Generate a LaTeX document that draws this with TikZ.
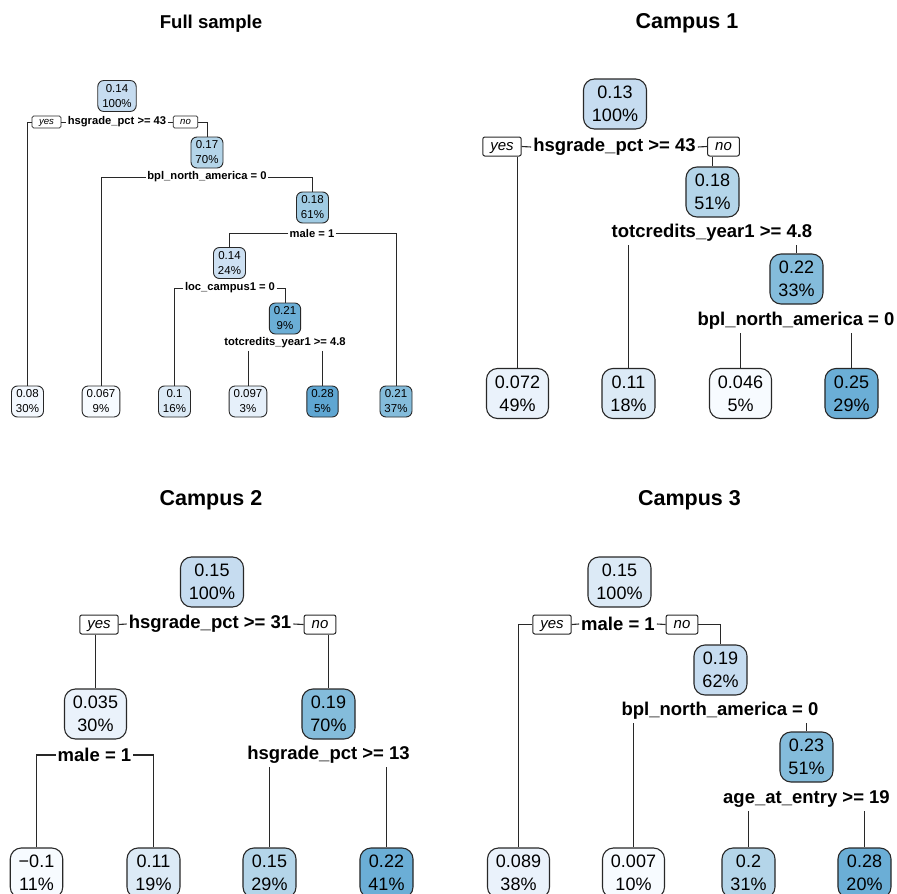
\documentclass[tikz,border=0pt]{standalone}
\usepackage{fontspec}
\setmainfont{Liberation Sans}
\definecolor{lineC}{RGB}{40,40,40}
\definecolor{b0}{RGB}{247,251,255}
\definecolor{b1}{RGB}{243,248,254}
\definecolor{b2}{RGB}{234,242,251}
\definecolor{b3}{RGB}{230,240,250}
\definecolor{b4}{RGB}{220,234,246}
\definecolor{b5}{RGB}{205,224,242}
\definecolor{b6}{RGB}{198,220,240}
\definecolor{b7}{RGB}{180,213,233}
\definecolor{b8}{RGB}{160,203,227}
\definecolor{b9}{RGB}{132,188,219}
\definecolor{b10}{RGB}{107,174,214}
\definecolor{b11}{RGB}{95,166,210}
\begin{document}
\begin{tikzpicture}[x=1pt,y=-1pt,
 fbox/.style={draw=lineC, line width=0.9pt, rounded corners=6pt, align=center, font=\fontsize{11.5}{15}\selectfont, inner xsep=4.5pt, inner ysep=0pt, minimum height=31pt},
 cbox/.style={draw=lineC, line width=1.1pt, rounded corners=11pt, align=center, font=\fontsize{18}{22.6}\selectfont, inner xsep=8.5pt, inner ysep=0pt, minimum height=50pt},
 flab/.style={font=\bfseries\fontsize{11.2}{13}\selectfont, inner xsep=1.5pt, inner ysep=2.5pt},
 clab/.style={font=\bfseries\fontsize{18.5}{21}\selectfont, inner xsep=2pt, inner ysep=3.5pt},
 fyn/.style={draw=lineC, line width=0.7pt, fill=white, rounded corners=1.5pt, font=\itshape\fontsize{9.6}{11}\selectfont, inner xsep=7pt, inner ysep=0pt, text height=7.3pt, text depth=1.9pt, minimum height=12pt},
 cyn/.style={draw=lineC, line width=1pt, fill=white, rounded corners=2pt, font=\itshape\fontsize{15}{17}\selectfont, inner xsep=7.5pt, inner ysep=0pt, text height=11.4pt, text depth=3pt, minimum height=19pt},
 fedge/.style={draw=lineC, line width=0.8pt},
 cedge/.style={draw=lineC, line width=1.1pt},
 fttl/.style={font=\bfseries\fontsize{18.6}{22}\selectfont, anchor=base, inner sep=0pt},
 cttl/.style={font=\bfseries\fontsize{21.5}{25}\selectfont, anchor=base, inner sep=0pt}]
\useasboundingbox (0,0) rectangle (897,894);
\clip (0,0) rectangle (897,894);
\fill[white] (0,0) rectangle (897,894);

% ---------------- Full sample ----------------
\node[fttl] (t0) at (211,28) {Full sample};
\node[fbox, fill=b6] (f1) at (117,96) {0.14\\100\%};
\node[fyn] (fyes1) at (46.5,122) {yes};
\node[flab] (flab1) at (117,122) {hsgrade\_pct >= 43};
\node[fyn] (fno1) at (185.5,122) {no};
\node[fbox, fill=b7] (f2) at (207,152.5) {0.17\\70\%};
\node[flab] (flab2) at (207,177) {bpl\_north\_america = 0};
\node[fbox, fill=b8] (f3) at (312.5,207.5) {0.18\\61\%};
\node[flab] (flab3) at (312,233) {male = 1};
\node[fbox, fill=b5] (f4) at (229.5,263) {0.14\\24\%};
\node[flab] (flab4) at (230,288) {loc\_campus1 = 0};
\node[fbox, fill=b10] (f5) at (285,318.5) {0.21\\9\%};
\node[flab] (flab5) at (285,343) {totcredits\_year1 >= 4.8};
\node[fbox, fill=b1] (fl1) at (27.5,401.5) {0.08\\30\%};
\node[fbox, fill=b0] (fl2) at (101,401.5) {0.067\\9\%};
\node[fbox, fill=b4] (fl3) at (174.5,401.5) {0.1\\16\%};
\node[fbox, fill=b3] (fl4) at (248,401.5) {0.097\\3\%};
\node[fbox, fill=b11] (fl5) at (322.5,401.5) {0.28\\5\%};
\node[fbox, fill=b9] (fl6) at (396,401.5) {0.21\\37\%};

\draw[fedge] (fyes1.west) -| (fl1.north);
\draw[fedge] (fyes1.east) -- (flab1.west);
\draw[fedge] (flab1.east) -- (fno1.west);
\draw[fedge] (fno1.east) -| (f2.north);
\draw[fedge] (flab2.west) -| (fl2.north);
\draw[fedge] (flab2.east) -| (f3.north);
\draw[fedge] (flab3.west) -| (f4.north);
\draw[fedge] (flab3.east) -| (fl6.north);
\draw[fedge] (flab4.west) -| (fl3.north);
\draw[fedge] (flab4.east) -| (f5.north);
\draw[fedge] (flab5.south -| fl4.north) -- (fl4.north);
\draw[fedge] (flab5.south -| fl5.north) -- (fl5.north);

% ---------------- Campus 1 ----------------
\node[cttl] (t1) at (687,28) {Campus 1};
\node[cbox, fill=b6] (c1r) at (615,104) {0.13\\100\%};
\node[cyn] (c1yes) at (502,146.5) {yes};
\node[clab] (c1lab1) at (614.5,147) {hsgrade\_pct >= 43};
\node[cyn] (c1no) at (723.5,146.5) {no};
\node[cbox, fill=b7] (c1n2) at (712.5,192) {0.18\\51\%};
\node[clab] (c1lab2) at (712,233) {totcredits\_year1 >= 4.8};
\node[cbox, fill=b9] (c1n3) at (796.5,279) {0.22\\33\%};
\node[clab] (c1lab3) at (796,321) {bpl\_north\_america = 0};
\node[cbox, fill=b2] (c1l1) at (517.5,393.5) {0.072\\49\%};
\node[cbox, fill=b4] (c1l2) at (628.5,393.5) {0.11\\18\%};
\node[cbox, fill=b0] (c1l3) at (740.5,393.5) {0.046\\5\%};
\node[cbox, fill=b10] (c1l4) at (851.5,393.5) {0.25\\29\%};

\draw[cedge] (c1l1.north |- c1yes.south) -- (c1l1.north);
\draw[cedge] (c1yes.east) -- (c1lab1.west);
\draw[cedge] (c1lab1.east) -- (c1no.west);
\draw[cedge] (c1n2.north |- c1no.south) -- (c1n2.north);
\draw[cedge] (c1lab2.south -| c1l2.north) -- (c1l2.north);
\draw[cedge] (c1lab2.south -| c1n3.north) -- (c1n3.north);
\draw[cedge] (c1lab3.south -| c1l3.north) -- (c1l3.north);
\draw[cedge] (c1lab3.south -| c1l4.north) -- (c1l4.north);

% ---------------- Campus 2 ----------------
\node[cttl] (t2) at (211,505) {Campus 2};
\node[cbox, fill=b6] (c2r) at (212,582) {0.15\\100\%};
\node[cyn] (c2yes) at (99,624.5) {yes};
\node[clab] (c2lab1) at (210,624) {hsgrade\_pct >= 31};
\node[cyn] (c2no) at (320,624.5) {no};
\node[cbox, fill=b2] (c2n2) at (95.5,714) {0.035\\30\%};
\node[cbox, fill=b9] (c2n3) at (328.5,714) {0.19\\70\%};
\node[clab] (c2lab2) at (94.5,755) {male = 1};
\node[clab] (c2lab3) at (328.5,755) {hsgrade\_pct >= 13};
\node[cbox, fill=b0] (c2l1) at (36.5,873) {−0.1\\11\%};
\node[cbox, fill=b4] (c2l2) at (153.5,873) {0.11\\19\%};
\node[cbox, fill=b7] (c2l3) at (269.5,873) {0.15\\29\%};
\node[cbox, fill=b10] (c2l4) at (386.5,873) {0.22\\41\%};

\draw[cedge] (c2n2.north |- c2yes.south) -- (c2n2.north);
\draw[cedge] (c2yes.east) -- (c2lab1.west);
\draw[cedge] (c2lab1.east) -- (c2no.west);
\draw[cedge] (c2n3.north |- c2no.south) -- (c2n3.north);
\draw[cedge] (c2lab2.west) -| (c2l1.north);
\draw[cedge] (c2lab2.east) -| (c2l2.north);
\draw[cedge] (c2lab3.south -| c2l3.north) -- (c2l3.north);
\draw[cedge] (c2lab3.south -| c2l4.north) -- (c2l4.north);

% ---------------- Campus 3 ----------------
\node[cttl] (t3) at (689.5,505) {Campus 3};
\node[cbox, fill=b4] (c3r) at (619.5,582) {0.15\\100\%};
\node[cyn] (c3yes) at (552,624.5) {yes};
\node[clab] (c3lab1) at (618,624) {male = 1};
\node[cyn] (c3no) at (682,624.5) {no};
\node[cbox, fill=b6] (c3n2) at (720.5,670) {0.19\\62\%};
\node[clab] (c3lab2) at (720,711) {bpl\_north\_america = 0};
\node[cbox, fill=b9] (c3n3) at (806.5,757) {0.23\\51\%};
\node[clab] (c3lab3) at (806.5,799) {age\_at\_entry >= 19};
\node[cbox, fill=b2] (c3l1) at (518.5,873) {0.089\\38\%};
\node[cbox, fill=b0] (c3l2) at (633.5,873) {0.007\\10\%};
\node[cbox, fill=b7] (c3l3) at (748.5,873) {0.2\\31\%};
\node[cbox, fill=b10] (c3l4) at (864.5,873) {0.28\\20\%};

\draw[cedge] (c3yes.west) -| (c3l1.north);
\draw[cedge] (c3yes.east) -- (c3lab1.west);
\draw[cedge] (c3lab1.east) -- (c3no.west);
\draw[cedge] (c3no.east) -| (c3n2.north);
\draw[cedge] (c3lab2.south -| c3l2.north) -- (c3l2.north);
\draw[cedge] (c3lab2.south -| c3n3.north) -- (c3n3.north);
\draw[cedge] (c3lab3.south -| c3l3.north) -- (c3l3.north);
\draw[cedge] (c3lab3.south -| c3l4.north) -- (c3l4.north);
\end{tikzpicture}
\end{document}
